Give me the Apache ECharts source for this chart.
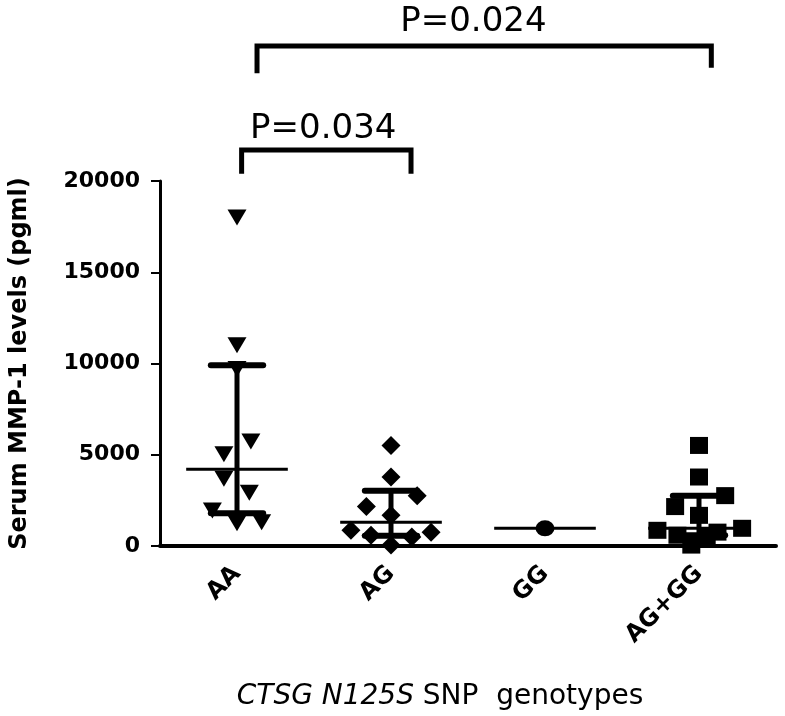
<!DOCTYPE html>
<html>
<head>
<meta charset="utf-8">
<script src="https://cdn.jsdelivr.net/npm/echarts@6/dist/echarts.min.js"></script>
<style>
html,body{margin:0;padding:0;background:#fff;}
#chart{width:785px;height:716px;}
</style>
</head>
<body>
<div id="chart"></div>
<script>
// ---- data ----
const categories = ['AA', 'AG', 'GG', 'AG+GG'];
const yTicks = [0, 5000, 10000, 15000, 20000];

const aaValues  = [18000, 11000, 9700, 5730, 5030, 3680, 2920, 1950, 1240, 1300];
const aaJitter  = [0, 0, 0, 0.09, -0.085, -0.085, 0.08, -0.16, 0, 0.16];

const agValues  = [5510, 3780, 2760, 2160, 1680, 860, 590, 490, 760, 50];
const agJitter  = [0, 0, 0.17, -0.16, 0, -0.26, -0.13, 0.135, 0.26, 0];

const ggValues  = [970];
const ggJitter  = [0];

const aggValues = [5510, 3780, 2760, 2160, 1680, 860, 970, 760, 590, 490, 50];
const aggJitter = [0, 0, 0.17, -0.155, 0, -0.27, 0.28, 0.12, -0.14, 0.05, -0.05];

const medians = [4200, 1300, 970, 970];
const q1s     = [1800, 560, null, 590];
const q3s     = [9900, 3030, null, 2760];

const bracketLeft     = [0.03, 0.13];
const bracketRight    = [1.13, 3.08];
const bracketTop      = [21700, 27400];
const bracketLeftEnd  = [20400, 25900];
const bracketRightEnd = [20400, 26200];
const pLabels = ['P=0.034', 'P=0.024'];
const pLabelX = [0.56, 1.535];
const pLabelY = [22860, 28680];

// ---- build ----
function pts(idx, vals, jit) {
  return vals.map((v, k) => [idx + jit[k], v]);
}

const chart = echarts.init(document.getElementById('chart'), null, {renderer: 'canvas'});

const FONT = 'DejaVu Sans';
const markStyle = {color: '#000', opacity: 1};

const option = {
  backgroundColor: '#ffffff',
  animation: false,
  grid: {left: 153, right: 9, top: 181, bottom: 165, containLabel: false},
  xAxis: [
    {
      type: 'category',
      data: categories,
      boundaryGap: true,
      axisLine: {onZero: false, lineStyle: {color: '#000', width: 4}},
      axisTick: {alignWithLabel: true, length: 10, lineStyle: {color: '#000', width: 2}},
      axisLabel: {rotate: 45, margin: 24, color: '#000', fontFamily: FONT, fontWeight: 'bold', fontSize: 24},
      splitLine: {show: false},
      name: '{i|CTSG N125S} SNP  genotypes',
      nameLocation: 'middle',
      nameGap: 137,
      nameTextStyle: {
        color: '#000', fontFamily: FONT, fontSize: 28,
        padding: [0, 56, 0, 0],
        rich: {i: {fontStyle: 'italic', fontFamily: FONT, fontSize: 28, color: '#000'}}
      }
    },
    {
      type: 'value',
      min: -0.5, max: 3.5,
      show: false
    }
  ],
  yAxis: {
    type: 'value',
    min: 0, max: 20000, interval: 5000,
    axisLine: {show: true, onZero: false, lineStyle: {color: '#000', width: 3}},
    axisTick: {show: true, length: 9, lineStyle: {color: '#000', width: 2}},
    axisLabel: {margin: 20, color: '#000', fontFamily: FONT, fontWeight: 'bold', fontSize: 22,
      formatter: v => String(v)},
    splitLine: {show: false},
    name: 'Serum MMP-1 levels (pgml)',
    nameLocation: 'middle',
    nameGap: 128,
    nameTextStyle: {color: '#000', fontFamily: FONT, fontWeight: 'bold', fontSize: 24}
  },
  series: [
    {
      type: 'custom',
      xAxisIndex: 1, yAxisIndex: 0,
      z: 3,
      data: categories.map((c, i) => [i, medians[i]]),
      renderItem: function (params, api) {
        const i = params.dataIndex;
        const x = api.value(0);
        const band = api.size([1, 0])[0];
        const pm = api.coord([x, api.value(1)]);
        const half = band * 0.33;
        const capHalf = band * 0.17;
        const children = [{
          type: 'line',
          shape: {x1: pm[0] - half, y1: pm[1], x2: pm[0] + half, y2: pm[1]},
          style: {stroke: '#000', lineWidth: 3}
        }];
        if (q1s[i] != null && q3s[i] != null) {
          const pl = api.coord([x, q1s[i]]);
          const ph = api.coord([x, q3s[i]]);
          children.push({type: 'line', shape: {x1: pm[0], y1: pl[1], x2: pm[0], y2: ph[1]},
            style: {stroke: '#000', lineWidth: 5}});
          children.push({type: 'line', shape: {x1: pm[0] - capHalf, y1: ph[1], x2: pm[0] + capHalf, y2: ph[1]},
            style: {stroke: '#000', lineWidth: 6, lineCap: 'round'}});
          children.push({type: 'line', shape: {x1: pm[0] - capHalf, y1: pl[1], x2: pm[0] + capHalf, y2: pl[1]},
            style: {stroke: '#000', lineWidth: 6, lineCap: 'round'}});
        }
        return {type: 'group', children: children};
      }
    },
    {
      type: 'scatter', xAxisIndex: 1, yAxisIndex: 0, z: 4,
      symbol: 'triangle', symbolRotate: 180, symbolSize: [19, 16],
      itemStyle: markStyle,
      data: pts(0, aaValues, aaJitter)
    },
    {
      type: 'scatter', xAxisIndex: 1, yAxisIndex: 0, z: 4,
      symbol: 'diamond', symbolSize: [19, 19],
      itemStyle: markStyle,
      data: pts(1, agValues, agJitter)
    },
    {
      type: 'scatter', xAxisIndex: 1, yAxisIndex: 0, z: 4,
      symbol: 'circle', symbolSize: [19, 16],
      itemStyle: markStyle,
      data: pts(2, ggValues, ggJitter)
    },
    {
      type: 'scatter', xAxisIndex: 1, yAxisIndex: 0, z: 4,
      symbol: 'rect', symbolSize: [18, 17],
      itemStyle: markStyle,
      data: pts(3, aggValues, aggJitter)
    },
    {
      type: 'custom',
      xAxisIndex: 1, yAxisIndex: 0,
      clip: false,
      z: 5,
      data: pLabels.map((p, i) => [bracketLeft[i], bracketRight[i]]),
      renderItem: function (params, api) {
        const i = params.dataIndex;
        const a = api.coord([bracketLeft[i], bracketLeftEnd[i]]);
        const b = api.coord([bracketLeft[i], bracketTop[i]]);
        const c = api.coord([bracketRight[i], bracketTop[i]]);
        const d = api.coord([bracketRight[i], bracketRightEnd[i]]);
        const t = api.coord([pLabelX[i], pLabelY[i]]);
        return {
          type: 'group',
          children: [
            {type: 'polyline', shape: {points: [a, b, c, d]},
              style: {stroke: '#000', lineWidth: 5, fill: null, lineJoin: 'miter'}},
            {type: 'text', x: t[0], y: t[1],
              style: {text: pLabels[i], fill: '#000', font: '34px "DejaVu Sans"',
                textAlign: 'center', textVerticalAlign: 'middle'}}
          ]
        };
      }
    }
  ]
};

chart.setOption(option);
</script>
</body>
</html>
